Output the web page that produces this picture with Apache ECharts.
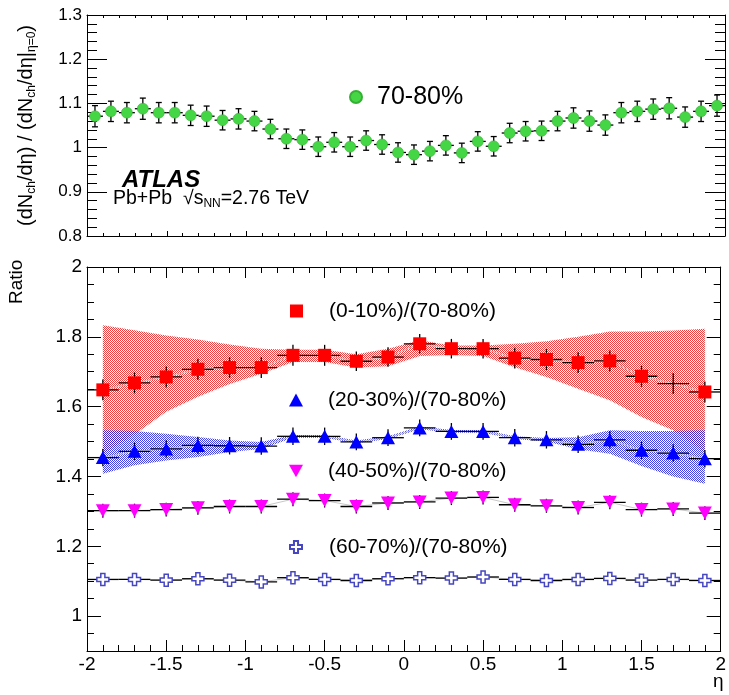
<!DOCTYPE html>
<html>
<head>
<meta charset="utf-8">
<script src="https://cdn.jsdelivr.net/npm/echarts@6/dist/echarts.min.js"></script>
<style>
html,body{margin:0;padding:0;background:#fff;}
#c{width:729px;height:695px;}
</style>
</head>
<body>
<div id="c"></div>
<script>
// ---------- data (top panel: 70-80% normalised dNch/deta) ----------
const etaTop = [-1.95,-1.85,-1.75,-1.65,-1.55,-1.45,-1.35,-1.25,-1.15,-1.05,
                -0.95,-0.85,-0.75,-0.65,-0.55,-0.45,-0.35,-0.25,-0.15,-0.05,
                 0.05, 0.15, 0.25, 0.35, 0.45, 0.55, 0.65, 0.75, 0.85, 0.95,
                 1.05, 1.15, 1.25, 1.35, 1.45, 1.55, 1.65, 1.75, 1.85, 1.95];
const ratio7080 = [1.071,1.082,1.079,1.088,1.079,1.079,1.073,1.071,1.062,1.065,
                   1.060,1.042,1.020,1.018,1.002,1.012,1.002,1.016,1.007,0.989,
                   0.984,0.992,1.005,0.988,1.014,1.003,1.033,1.037,1.038,1.060,
                   1.067,1.060,1.051,1.079,1.082,1.087,1.089,1.069,1.082,1.095];
const err7080 = [0.024,0.023,0.023,0.024,0.023,0.023,0.023,0.023,0.022,0.023,
                 0.022,0.022,0.022,0.022,0.022,0.022,0.022,0.022,0.022,0.022,
                 0.022,0.022,0.022,0.022,0.022,0.022,0.022,0.022,0.022,0.022,
                 0.023,0.023,0.023,0.023,0.023,0.023,0.024,0.023,0.023,0.024];

// ---------- data (bottom panel: ratios) ----------
const etaBins = [-1.9,-1.7,-1.5,-1.3,-1.1,-0.9,-0.7,-0.5,-0.3,-0.1,
                  0.1, 0.3, 0.5, 0.7, 0.9, 1.1, 1.3, 1.5, 1.7, 1.9];
const r0010 = [1.648,1.668,1.685,1.707,1.712,1.712,1.747,1.747,1.730,1.742,
               1.780,1.766,1.766,1.739,1.735,1.726,1.731,1.687,1.666,1.642];
const r2030 = [1.454,1.472,1.479,1.489,1.488,1.487,1.515,1.515,1.499,1.511,
               1.539,1.529,1.529,1.511,1.505,1.492,1.505,1.475,1.467,1.451];
const r4050 = [1.302,1.302,1.305,1.310,1.314,1.314,1.335,1.331,1.314,1.324,
               1.327,1.338,1.340,1.319,1.316,1.311,1.326,1.305,1.307,1.295];
const r6070 = [1.105,1.105,1.103,1.107,1.103,1.098,1.110,1.105,1.102,1.107,
               1.110,1.109,1.112,1.105,1.102,1.105,1.108,1.103,1.105,1.102];
const e0010 = [0.030,0.030,0.030,0.030,0.030,0.030,0.030,0.030,0.028,0.028,
               0.028,0.028,0.028,0.030,0.030,0.030,0.030,0.030,0.030,0.030];
const e2030 = [0.025,0.025,0.025,0.025,0.025,0.025,0.025,0.025,0.024,0.024,
               0.024,0.024,0.024,0.025,0.025,0.025,0.025,0.025,0.025,0.025];
const e4050 = [0.020,0.020,0.020,0.020,0.020,0.020,0.020,0.020,0.020,0.020,
               0.020,0.020,0.020,0.020,0.020,0.020,0.020,0.020,0.020,0.020];
const e6070 = [0.016,0.016,0.016,0.016,0.016,0.016,0.016,0.016,0.016,0.016,
               0.016,0.016,0.016,0.016,0.016,0.016,0.016,0.016,0.016,0.016];
// systematic bands
const sys0010Hi = [1.833,1.819,1.804,1.792,1.778,1.766,1.763,1.763,1.750,1.766,
                   1.790,1.775,1.775,1.780,1.787,1.800,1.815,1.815,1.818,1.823];
const sys0010Lo = [1.465,1.520,1.585,1.628,1.665,1.694,1.728,1.728,1.712,1.716,
                   1.745,1.748,1.745,1.713,1.685,1.651,1.618,1.570,1.532,1.470];
const sys2030Hi = [1.532,1.530,1.522,1.513,1.503,1.499,1.519,1.519,1.503,1.515,
                   1.543,1.533,1.533,1.515,1.510,1.512,1.532,1.530,1.530,1.532];
const sys2030Lo = [1.408,1.432,1.446,1.456,1.470,1.479,1.511,1.511,1.495,1.507,
                   1.535,1.525,1.525,1.507,1.500,1.478,1.465,1.430,1.400,1.379];
const hiddenMarker0010 = [18];  // bin where the reference shows no square

const botLabelsY = [1,1.2,1.4,1.6,1.8,2];
const botMinorY = [0.9,0.95,1,1.05,1.1,1.15,1.2,1.25,1.3,1.35,1.4,1.45,1.5,1.55,1.6,1.65,1.7,1.75,1.8,1.85,1.9,1.95,2];

// ---------- helpers ----------
const FONT = '"Liberation Sans", Arial, Helvetica, sans-serif';
function pattern(color){
  const c = document.createElement('canvas'); c.width = 2; c.height = 2;
  const g = c.getContext('2d'); g.fillStyle = color;
  g.fillRect(0,0,1,1); g.fillRect(1,1,1,1);
  return {image: c, repeat: 'repeat'};
}
function errSeries(xs, ys, es, hw, cap, xi, yi){
  return {
    type: 'custom', xAxisIndex: xi, yAxisIndex: yi, silent: true, z: 3,
    data: xs.map((x,i)=>[x, ys[i], es[i]]),
    renderItem: function(params, api){
      const x = api.value(0), y = api.value(1), e = api.value(2);
      const l = api.coord([x-hw, y]), r = api.coord([x+hw, y]);
      const t = api.coord([x, y+e]), b = api.coord([x, y-e]);
      const st = {stroke:'#000', lineWidth: 1.3};
      const ch = [
        {type:'line', shape:{x1:l[0],y1:l[1],x2:r[0],y2:r[1]}, style:st},
        {type:'line', shape:{x1:t[0],y1:t[1],x2:b[0],y2:b[1]}, style:st}
      ];
      if (cap){
        ch.push({type:'line', shape:{x1:t[0]-cap,y1:t[1],x2:t[0]+cap,y2:t[1]}, style:st});
        ch.push({type:'line', shape:{x1:b[0]-cap,y1:b[1],x2:b[0]+cap,y2:b[1]}, style:st});
      }
      return {type:'group', children: ch};
    }
  };
}
function bandSeries(xs, lo, hi, color){
  return {
    type: 'custom', xAxisIndex: 2, yAxisIndex: 2, silent: true, z: 1,
    data: xs.map((x,i)=>[x, lo[i], hi[i]]),
    renderItem: function(params, api){
      if (params.dataIndex !== 0) return null;
      const pts = [];
      for (let i=0;i<xs.length;i++) pts.push(api.coord([xs[i], hi[i]]));
      for (let i=xs.length-1;i>=0;i--) pts.push(api.coord([xs[i], lo[i]]));
      return {type:'polygon', shape:{points: pts}, style:{fill: pattern(color)}};
    }
  };
}
function guideLine(xs, ys){
  return {type:'line', xAxisIndex:2, yAxisIndex:2, silent:true, z:2, symbol:'none',
          data: xs.map((x,i)=>[x, ys[i]]), lineStyle:{color:'#c8c8c8', width:1}};
}

const downTri = 'path://M0,0 L10,0 L5,9 Z';
const openCross = 'path://M3.3,0 L6.7,0 L6.7,3.3 L10,3.3 L10,6.7 L6.7,6.7 L6.7,10 L3.3,10 L3.3,6.7 L0,6.7 L0,3.3 L3.3,3.3 Z';

const axisLine = {show:true, onZero:false, lineStyle:{color:'#000', width:1}};
const noLine = {show:false, onZero:false};
function xAx(grid, pos, labels, major, minor){
  return {type:'value', gridIndex:grid, position:pos, min:-2, max:2, interval:0.5,
    axisLine, splitLine:{show:false},
    axisTick:{show:true, inside:true, length:major, lineStyle:{color:'#000'}},
    minorTick:{show:true, splitNumber:5, length:minor, lineStyle:{color:'#000'}},
    axisLabel: labels ? {show:true, fontSize:19, color:'#000', fontFamily:FONT, margin:4} : {show:false}};
}

const option = {
  animation: false,
  backgroundColor: '#fff',
  grid: [
    {left:87, top:15, width:638, height:221},
    {left:87, top:267, width:638, height:384}
  ],
  xAxis: [
    xAx(0,'bottom',false,5,3),
    xAx(0,'top',false,5,3),
    xAx(1,'bottom',true,11,6),
    xAx(1,'top',false,11,6)
  ],
  yAxis: [
    {type:'value', gridIndex:0, position:'left', min:0.8, max:1.3, interval:0.1,
     axisLine, splitLine:{show:false},
     axisTick:{show:true, inside:true, length:20, lineStyle:{color:'#000'}},
     minorTick:{show:true, splitNumber:5, length:10, lineStyle:{color:'#000'}},
     axisLabel:{fontSize:17, color:'#000', fontFamily:FONT, margin:5,
                formatter: v => String(Math.round(v*10)/10)},
     name:'(dN{s|ch}/dη) / (dN{s|ch}/dη|{s|η=0})', nameLocation:'middle', nameRotate:90, nameGap:49,
     nameTextStyle:{fontSize:20, color:'#000', fontFamily:FONT, lineHeight:24,
        rich:{s:{fontSize:12, fontFamily:FONT, color:'#000', lineHeight:12, verticalAlign:'bottom'}}}},
    {type:'value', gridIndex:0, position:'right', min:0.8, max:1.3, interval:0.1,
     axisLine, splitLine:{show:false}, axisLabel:{show:false},
     axisTick:{show:true, inside:true, length:20, lineStyle:{color:'#000'}},
     minorTick:{show:true, splitNumber:5, length:10, lineStyle:{color:'#000'}}},
    {type:'value', gridIndex:1, position:'left', min:0.9, max:2,
     axisLine, splitLine:{show:false},
     axisTick:{show:true, inside:true, length:14, customValues: botLabelsY, lineStyle:{color:'#000'}},
     axisLabel:{fontSize:19, color:'#000', fontFamily:FONT, margin:5, customValues: botLabelsY,
                formatter: v => String(Math.round(v*10)/10)}},
    {type:'value', gridIndex:1, position:'left', min:0.9, max:2,
     axisLine:noLine, splitLine:{show:false}, axisLabel:{show:false},
     axisTick:{show:true, inside:true, length:7, customValues: botMinorY, lineStyle:{color:'#000'}}},
    {type:'value', gridIndex:1, position:'right', min:0.9, max:2,
     axisLine, splitLine:{show:false}, axisLabel:{show:false},
     axisTick:{show:true, inside:true, length:14, customValues: botLabelsY, lineStyle:{color:'#000'}}},
    {type:'value', gridIndex:1, position:'right', min:0.9, max:2,
     axisLine:noLine, splitLine:{show:false}, axisLabel:{show:false},
     axisTick:{show:true, inside:true, length:7, customValues: botMinorY, lineStyle:{color:'#000'}}}
  ],
  legend: [
    {data:['70-80%'], left:349, top:84, padding:0, itemWidth:12, itemHeight:12,
     textStyle:{fontSize:25, lineHeight:26, color:'#000', fontFamily:FONT, padding:[0,0,0,10]}},
    {data:['(0-10%)/(70-80%)'], left:290, top:300, padding:0, itemWidth:13, itemHeight:13,
     textStyle:{fontSize:21, lineHeight:22, color:'#000', fontFamily:FONT, padding:[0,0,0,21]}},
    {data:['(20-30%)/(70-80%)'], left:289, top:389, padding:0, itemWidth:14, itemHeight:13,
     textStyle:{fontSize:21, lineHeight:22, color:'#000', fontFamily:FONT, padding:[0,0,0,20]}},
    {data:['(40-50%)/(70-80%)'], left:289, top:460, padding:0, itemWidth:14, itemHeight:13,
     textStyle:{fontSize:21, lineHeight:22, color:'#000', fontFamily:FONT, padding:[0,0,0,20]}},
    {data:['(60-70%)/(70-80%)'], left:289, top:536, padding:0, itemWidth:12, itemHeight:12,
     textStyle:{fontSize:21, lineHeight:22, color:'#000', fontFamily:FONT, padding:[0,0,0,22]}}
  ],
  graphic: [
    {type:'text', left:122, top:168, style:{text:'ATLAS', font:'italic bold 24px ' + FONT, fill:'#000'}},
    {type:'text', left:113, top:189, style:{
      text:'{n|Pb+Pb  √}{n|s}{sb|NN}{n|=2.76 TeV}',
      rich:{n:{fontSize:19.5, fontFamily:FONT, fill:'#000', lineHeight:21, verticalAlign:'top'},
            sb:{fontSize:12, fontFamily:FONT, fill:'#000', lineHeight:12, padding:[9,0,0,0]}}}},
    {type:'text', left:713, top:672, style:{text:'η', font:'19px ' + FONT, fill:'#000'}},
    {type:'text', x:7, y:304, rotation:Math.PI/2, style:{text:'Ratio', font:'19px ' + FONT, fill:'#000'}}
  ],
  series: [
    // top panel
    errSeries(etaTop, ratio7080, err7080, 0.05, 3, 0, 0),
    {name:'70-80%', type:'scatter', xAxisIndex:0, yAxisIndex:0, z:4, symbol:'circle', symbolSize:11,
     itemStyle:{color:'#45d645', borderColor:'#35b035', borderWidth:0.6, opacity:1},
     data: etaTop.map((x,i)=>[x, ratio7080[i]])},
    // bottom panel bands
    bandSeries(etaBins, sys0010Lo, sys0010Hi, 'rgba(235,30,30,0.85)'),
    bandSeries(etaBins, sys2030Lo, sys2030Hi, 'rgba(30,30,225,0.85)'),
    guideLine(etaBins, r0010), guideLine(etaBins, r2030), guideLine(etaBins, r4050), guideLine(etaBins, r6070),
    errSeries(etaBins, r0010, e0010, 0.1, 0, 2, 2),
    errSeries(etaBins, r2030, e2030, 0.1, 0, 2, 2),
    errSeries(etaBins, r4050, e4050, 0.1, 0, 2, 2),
    errSeries(etaBins, r6070, e6070, 0.1, 0, 2, 2),
    {name:'(0-10%)/(70-80%)', type:'scatter', xAxisIndex:2, yAxisIndex:2, z:4, symbol:'rect', symbolSize:13,
     itemStyle:{color:'#ff0000', opacity:1},
     data: etaBins.map((x,i)=> hiddenMarker0010.includes(i) ? {value:[x, r0010[i]], symbolSize:0} : [x, r0010[i]])},
    {name:'(20-30%)/(70-80%)', type:'scatter', xAxisIndex:2, yAxisIndex:2, z:4, symbol:'triangle', symbolSize:[14,13],
     itemStyle:{color:'#0000ff', opacity:1},
     data: etaBins.map((x,i)=>[x, r2030[i]])},
    {name:'(40-50%)/(70-80%)', type:'scatter', xAxisIndex:2, yAxisIndex:2, z:4, symbol:downTri, symbolSize:[14,13],
     itemStyle:{color:'#ff00ff', opacity:1},
     data: etaBins.map((x,i)=>[x, r4050[i]])},
    {name:'(60-70%)/(70-80%)', type:'scatter', xAxisIndex:2, yAxisIndex:2, z:4, symbol:openCross, symbolSize:12,
     itemStyle:{color:'#ffffff', borderColor:'#4646c0', borderWidth:1.5, opacity:1},
     data: etaBins.map((x,i)=>[x, r6070[i]])}
  ]
};
const chart = echarts.init(document.getElementById('c'));
chart.setOption(option);
</script>
</body>
</html>
